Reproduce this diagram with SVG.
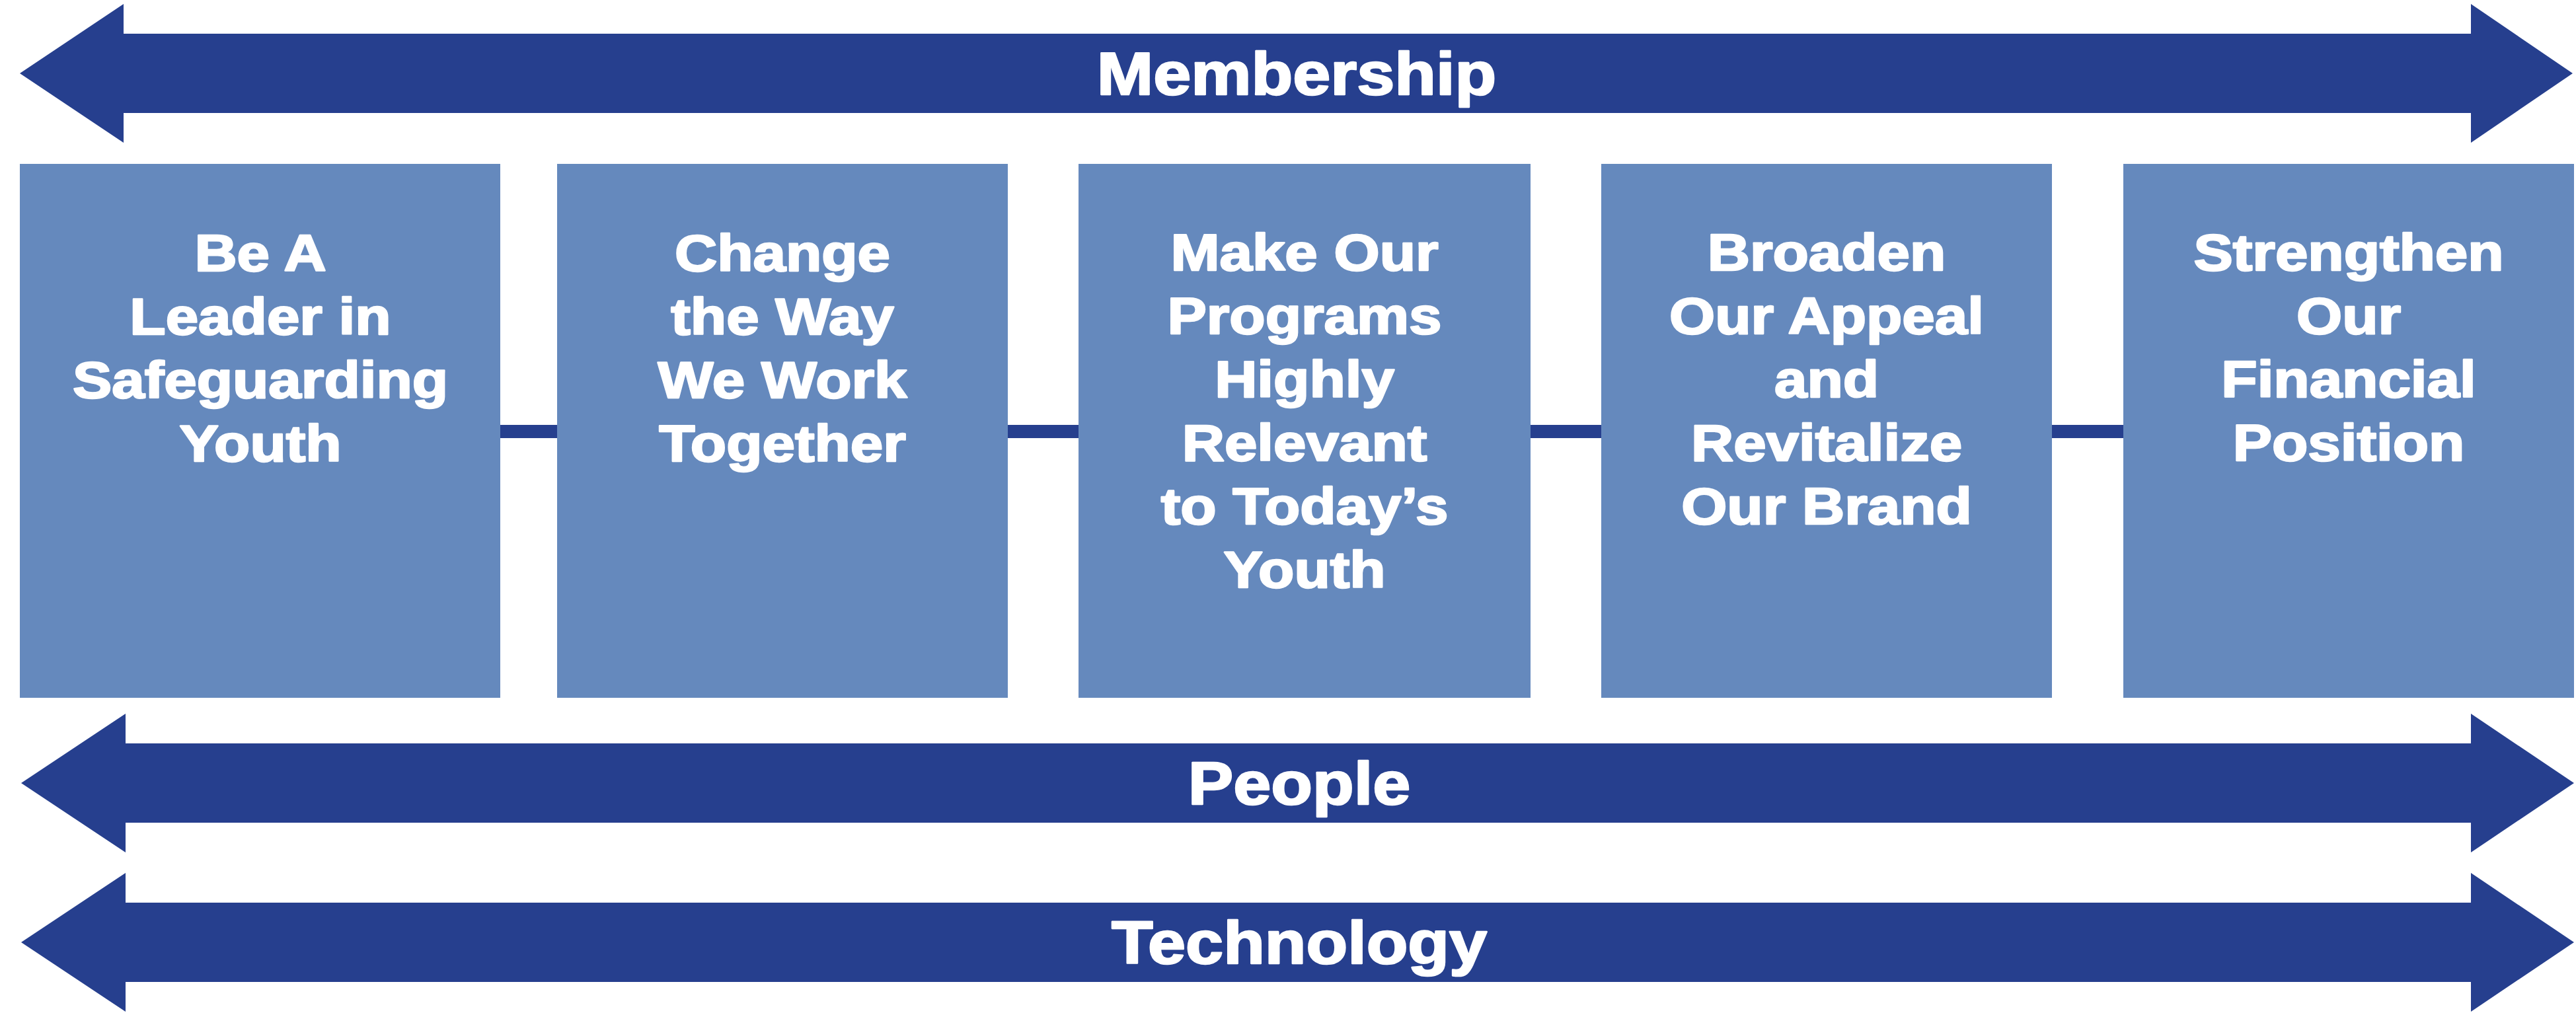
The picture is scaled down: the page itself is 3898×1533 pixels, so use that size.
<svg xmlns="http://www.w3.org/2000/svg" width="3898" height="1533" viewBox="0 0 3898 1533">
<style>
.bg{fill:#ffffff}
.arrow{fill:#263F8E}
.box{fill:#6589BD}
.conn{stroke:#263F8E;stroke-width:20;fill:none}
.t{font-family:"Liberation Sans",Arial,sans-serif;font-weight:bold;fill:#ffffff;stroke:#ffffff;stroke-width:2.5;stroke-linejoin:round;text-anchor:middle}
.nt{font-size:78px}
.at{font-size:90px}
</style>
<rect class="bg" x="0" y="0" width="3898" height="1533"/>

<g id="membership">
<path class="arrow" d="M30,111 L187,6 L187,51 L3739,51 L3739,6 L3893,111 L3739,216 L3739,171 L187,171 L187,216 Z"/>
<g transform="translate(1962,0) scale(1.14,1)"><text class="t at" x="0" y="143">Membership</text></g>
</g>

<g id="connectors">
<line class="conn" x1="757" y1="653" x2="843" y2="653"/>
<line class="conn" x1="1525" y1="653" x2="1632" y2="653"/>
<line class="conn" x1="2316" y1="653" x2="2423" y2="653"/>
<line class="conn" x1="3105" y1="653" x2="3213" y2="653"/>
</g>

<g id="node1">
<rect class="box" x="30" y="248" width="727" height="808"/>
<g transform="translate(394,0) scale(1.14,1)"><text class="t nt" x="0" y="410"><tspan x="0" y="410">Be A</tspan><tspan x="0" y="506">Leader in</tspan><tspan x="0" y="602">Safeguarding</tspan><tspan x="0" y="698">Youth</tspan></text></g>
</g>

<g id="node2">
<rect class="box" x="843" y="248" width="682" height="808"/>
<g transform="translate(1184,0) scale(1.14,1)"><text class="t nt" x="0" y="410"><tspan x="0" y="410">Change</tspan><tspan x="0" y="506">the Way</tspan><tspan x="0" y="602">We Work</tspan><tspan x="0" y="698">Together</tspan></text></g>
</g>

<g id="node3">
<rect class="box" x="1632" y="248" width="684" height="808"/>
<g transform="translate(1974,0) scale(1.14,1)"><text class="t nt" x="0" y="409"><tspan x="0" y="409">Make Our</tspan><tspan x="0" y="505">Programs</tspan><tspan x="0" y="601">Highly</tspan><tspan x="0" y="697">Relevant</tspan><tspan x="0" y="793">to Today’s</tspan><tspan x="0" y="889">Youth</tspan></text></g>
</g>

<g id="node4">
<rect class="box" x="2423" y="248" width="682" height="808"/>
<g transform="translate(2764,0) scale(1.14,1)"><text class="t nt" x="0" y="409"><tspan x="0" y="409">Broaden</tspan><tspan x="0" y="505">Our Appeal</tspan><tspan x="0" y="601">and</tspan><tspan x="0" y="697">Revitalize</tspan><tspan x="0" y="793">Our Brand</tspan></text></g>
</g>

<g id="node5">
<rect class="box" x="3213" y="248" width="682" height="808"/>
<g transform="translate(3554,0) scale(1.14,1)"><text class="t nt" x="0" y="409"><tspan x="0" y="409">Strengthen</tspan><tspan x="0" y="505">Our</tspan><tspan x="0" y="601">Financial</tspan><tspan x="0" y="697">Position</tspan></text></g>
</g>

<g id="people">
<path class="arrow" d="M32,1185 L190,1080 L190,1125 L3739,1125 L3739,1080 L3895,1185 L3739,1290 L3739,1245 L190,1245 L190,1290 Z"/>
<g transform="translate(1966,0) scale(1.14,1)"><text class="t at" x="0" y="1217">People</text></g>
</g>

<g id="technology">
<path class="arrow" d="M32,1426 L190,1321 L190,1366 L3739,1366 L3739,1321 L3895,1426 L3739,1531 L3739,1486 L190,1486 L190,1531 Z"/>
<g transform="translate(1966,0) scale(1.14,1)"><text class="t at" x="0" y="1458">Technology</text></g>
</g>
</svg>
